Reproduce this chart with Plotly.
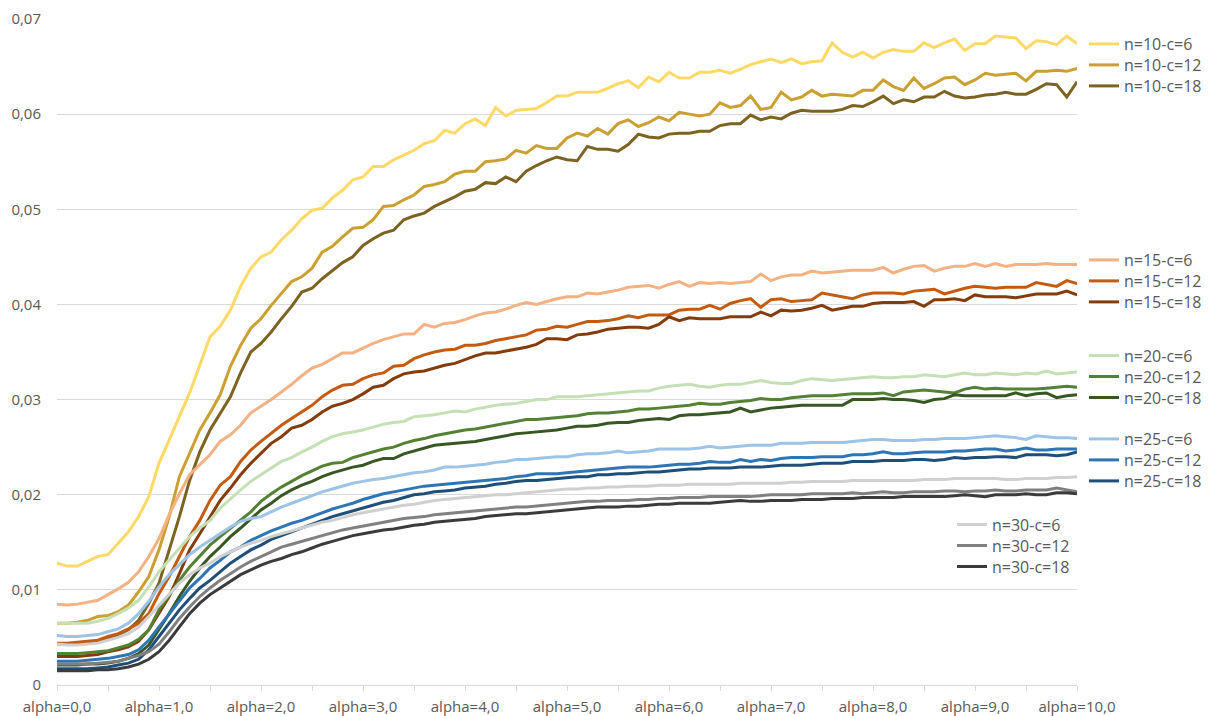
import plotly.graph_objects as go

alpha = [round(i * 0.1, 1) for i in range(101)]
tick_vals = [i * 0.5 for i in range(21)]
tick_text = [("alpha=%d,0" % int(v)) if v == int(v) else "" for v in tick_vals]
y_tick_vals = [0, 0.01, 0.02, 0.03, 0.04, 0.05, 0.06, 0.07]
y_tick_text = ["0", "0,01", "0,02", "0,03", "0,04", "0,05", "0,06", "0,07"]

s10_6 = [0.0128, 0.0125, 0.0125, 0.0130, 0.0135, 0.0137, 0.0149, 0.0161, 0.0177, 0.0198,
         0.0233, 0.0258, 0.0282, 0.0307, 0.0336, 0.0366, 0.0377, 0.0394, 0.0419, 0.0438,
         0.0450, 0.0455, 0.0468, 0.0478, 0.0490, 0.0499, 0.0501, 0.0512, 0.0520, 0.0531,
         0.0534, 0.0545, 0.0545, 0.0552, 0.0557, 0.0562, 0.0569, 0.0572, 0.0583, 0.0580,
         0.0590, 0.0595, 0.0588, 0.0607, 0.0598, 0.0604, 0.0605, 0.0606, 0.0612, 0.0619,
         0.0619, 0.0623, 0.0623, 0.0623, 0.0627, 0.0632, 0.0635, 0.0628, 0.0639, 0.0634,
         0.0644, 0.0638, 0.0638, 0.0644, 0.0644, 0.0646, 0.0643, 0.0647, 0.0652, 0.0655,
         0.0658, 0.0654, 0.0658, 0.0653, 0.0655, 0.0656, 0.0675, 0.0665, 0.0660, 0.0665,
         0.0659, 0.0665, 0.0668, 0.0666, 0.0666, 0.0675, 0.0670, 0.0675, 0.0679, 0.0667,
         0.0674, 0.0674, 0.0682, 0.0681, 0.0680, 0.0669, 0.0677, 0.0676, 0.0673, 0.0682,
         0.0674]
s10_12 = [0.0065, 0.0065, 0.0066, 0.0068, 0.0072, 0.0073, 0.0077, 0.0084, 0.0098, 0.0114,
          0.0142, 0.0177, 0.0219, 0.0244, 0.0268, 0.0286, 0.0305, 0.0335, 0.0357, 0.0375,
          0.0385, 0.0399, 0.0412, 0.0424, 0.0429, 0.0438, 0.0455, 0.0461, 0.0471, 0.0480,
          0.0481, 0.0489, 0.0503, 0.0504, 0.0510, 0.0515, 0.0524, 0.0526, 0.0529, 0.0537,
          0.0540, 0.0540, 0.0550, 0.0551, 0.0553, 0.0562, 0.0559, 0.0567, 0.0564, 0.0564,
          0.0575, 0.0580, 0.0577, 0.0585, 0.0579, 0.0590, 0.0594, 0.0587, 0.0591, 0.0597,
          0.0593, 0.0602, 0.0600, 0.0598, 0.0600, 0.0612, 0.0607, 0.0609, 0.0619, 0.0605,
          0.0607, 0.0623, 0.0615, 0.0618, 0.0625, 0.0619, 0.0621, 0.0620, 0.0619, 0.0625,
          0.0625, 0.0636, 0.0629, 0.0625, 0.0638, 0.0627, 0.0632, 0.0638, 0.0639, 0.0631,
          0.0636, 0.0643, 0.0641, 0.0642, 0.0643, 0.0635, 0.0645, 0.0645, 0.0646, 0.0645,
          0.0648]
s10_18 = [0.0043, 0.0043, 0.0043, 0.0044, 0.0046, 0.0049, 0.0053, 0.0058, 0.0068, 0.0086,
          0.0107, 0.0142, 0.0177, 0.0215, 0.0245, 0.0268, 0.0286, 0.0303, 0.0328, 0.0350,
          0.0359, 0.0371, 0.0385, 0.0398, 0.0413, 0.0417, 0.0427, 0.0436, 0.0444, 0.0450,
          0.0462, 0.0469, 0.0475, 0.0478, 0.0489, 0.0493, 0.0496, 0.0503, 0.0508, 0.0513,
          0.0519, 0.0521, 0.0528, 0.0527, 0.0534, 0.0529, 0.0540, 0.0546, 0.0551, 0.0555,
          0.0552, 0.0551, 0.0566, 0.0563, 0.0563, 0.0561, 0.0568, 0.0579, 0.0576, 0.0575,
          0.0579, 0.0580, 0.0580, 0.0582, 0.0582, 0.0588, 0.0590, 0.0590, 0.0599, 0.0594,
          0.0597, 0.0595, 0.0601, 0.0604, 0.0603, 0.0603, 0.0603, 0.0605, 0.0609, 0.0608,
          0.0613, 0.0619, 0.0611, 0.0615, 0.0613, 0.0618, 0.0618, 0.0624, 0.0619, 0.0617,
          0.0618, 0.0620, 0.0621, 0.0623, 0.0621, 0.0621, 0.0626, 0.0632, 0.0631, 0.0618,
          0.0634]
s15_6 = [0.0085, 0.0084, 0.0085, 0.0087, 0.0089, 0.0095, 0.0101, 0.0108, 0.0119, 0.0135,
         0.0154, 0.0179, 0.0201, 0.0221, 0.0231, 0.0242, 0.0256, 0.0263, 0.0273, 0.0286,
         0.0293, 0.0300, 0.0308, 0.0316, 0.0325, 0.0333, 0.0337, 0.0343, 0.0349, 0.0349,
         0.0354, 0.0359, 0.0363, 0.0366, 0.0369, 0.0369, 0.0379, 0.0376, 0.0380, 0.0381,
         0.0384, 0.0388, 0.0391, 0.0392, 0.0395, 0.0399, 0.0402, 0.0400, 0.0403, 0.0406,
         0.0408, 0.0408, 0.0412, 0.0411, 0.0413, 0.0415, 0.0418, 0.0419, 0.0420, 0.0417,
         0.0421, 0.0424, 0.0419, 0.0423, 0.0422, 0.0423, 0.0422, 0.0423, 0.0424, 0.0432,
         0.0425, 0.0429, 0.0431, 0.0431, 0.0435, 0.0433, 0.0434, 0.0435, 0.0436, 0.0436,
         0.0436, 0.0439, 0.0433, 0.0437, 0.0440, 0.0441, 0.0435, 0.0438, 0.0440, 0.0440,
         0.0443, 0.0440, 0.0443, 0.0440, 0.0442, 0.0442, 0.0442, 0.0443, 0.0442, 0.0442,
         0.0442]
s15_12 = [0.0044, 0.0044, 0.0045, 0.0046, 0.0047, 0.0051, 0.0054, 0.0059, 0.0065, 0.0075,
          0.0096, 0.0114, 0.0135, 0.0156, 0.0173, 0.0194, 0.0210, 0.0219, 0.0235, 0.0247,
          0.0256, 0.0265, 0.0273, 0.0280, 0.0287, 0.0294, 0.0303, 0.0310, 0.0315, 0.0316,
          0.0322, 0.0326, 0.0328, 0.0335, 0.0336, 0.0343, 0.0347, 0.0350, 0.0352, 0.0353,
          0.0357, 0.0357, 0.0359, 0.0362, 0.0364, 0.0366, 0.0368, 0.0373, 0.0374, 0.0377,
          0.0376, 0.0379, 0.0382, 0.0382, 0.0383, 0.0385, 0.0388, 0.0386, 0.0389, 0.0389,
          0.0389, 0.0394, 0.0395, 0.0395, 0.0399, 0.0395, 0.0401, 0.0404, 0.0406, 0.0397,
          0.0405, 0.0406, 0.0403, 0.0404, 0.0405, 0.0412, 0.0410, 0.0408, 0.0406, 0.0410,
          0.0412, 0.0412, 0.0412, 0.0411, 0.0414, 0.0415, 0.0416, 0.0411, 0.0414, 0.0417,
          0.0419, 0.0418, 0.0417, 0.0418, 0.0418, 0.0418, 0.0423, 0.0421, 0.0419, 0.0425,
          0.0422]
s15_18 = [0.0030, 0.0030, 0.0030, 0.0031, 0.0032, 0.0035, 0.0037, 0.0040, 0.0046, 0.0058,
          0.0075, 0.0093, 0.0117, 0.0142, 0.0159, 0.0177, 0.0194, 0.0207, 0.0221, 0.0233,
          0.0244, 0.0254, 0.0261, 0.0270, 0.0273, 0.0279, 0.0287, 0.0293, 0.0296, 0.0300,
          0.0306, 0.0313, 0.0315, 0.0322, 0.0327, 0.0329, 0.0330, 0.0333, 0.0336, 0.0338,
          0.0342, 0.0346, 0.0349, 0.0349, 0.0351, 0.0353, 0.0355, 0.0358, 0.0364, 0.0364,
          0.0363, 0.0368, 0.0369, 0.0371, 0.0374, 0.0375, 0.0376, 0.0376, 0.0375, 0.0379,
          0.0387, 0.0383, 0.0386, 0.0385, 0.0385, 0.0385, 0.0387, 0.0387, 0.0387, 0.0392,
          0.0388, 0.0394, 0.0393, 0.0394, 0.0396, 0.0399, 0.0394, 0.0396, 0.0398, 0.0398,
          0.0401, 0.0402, 0.0402, 0.0402, 0.0403, 0.0398, 0.0405, 0.0405, 0.0406, 0.0404,
          0.0410, 0.0408, 0.0408, 0.0408, 0.0407, 0.0409, 0.0411, 0.0411, 0.0411, 0.0414,
          0.0410]
s20_6 = [0.0065, 0.0065, 0.0065, 0.0065, 0.0067, 0.0070, 0.0075, 0.0081, 0.0089, 0.0103,
         0.0119, 0.0131, 0.0144, 0.0156, 0.0165, 0.0173, 0.0186, 0.0196, 0.0205, 0.0214,
         0.0221, 0.0228, 0.0235, 0.0239, 0.0245, 0.0250, 0.0256, 0.0261, 0.0264, 0.0266,
         0.0268, 0.0271, 0.0274, 0.0276, 0.0277, 0.0282, 0.0283, 0.0284, 0.0286, 0.0288,
         0.0287, 0.0290, 0.0292, 0.0294, 0.0295, 0.0296, 0.0298, 0.0300, 0.0300, 0.0303,
         0.0303, 0.0303, 0.0304, 0.0305, 0.0306, 0.0307, 0.0308, 0.0309, 0.0309, 0.0312,
         0.0314, 0.0315, 0.0316, 0.0314, 0.0313, 0.0315, 0.0316, 0.0316, 0.0318, 0.0320,
         0.0318, 0.0317, 0.0317, 0.0320, 0.0322, 0.0321, 0.0320, 0.0321, 0.0322, 0.0323,
         0.0324, 0.0323, 0.0323, 0.0324, 0.0324, 0.0326, 0.0325, 0.0324, 0.0326, 0.0328,
         0.0326, 0.0326, 0.0328, 0.0327, 0.0326, 0.0328, 0.0327, 0.0330, 0.0327, 0.0328,
         0.0329]
s20_12 = [0.0033, 0.0033, 0.0033, 0.0034, 0.0035, 0.0036, 0.0039, 0.0042, 0.0048, 0.0058,
          0.0079, 0.0095, 0.0110, 0.0124, 0.0135, 0.0147, 0.0156, 0.0165, 0.0173, 0.0182,
          0.0193, 0.0201, 0.0208, 0.0214, 0.0220, 0.0225, 0.0230, 0.0233, 0.0234, 0.0239,
          0.0242, 0.0245, 0.0248, 0.0250, 0.0254, 0.0257, 0.0259, 0.0262, 0.0264, 0.0266,
          0.0268, 0.0269, 0.0271, 0.0273, 0.0275, 0.0277, 0.0279, 0.0279, 0.0280, 0.0281,
          0.0282, 0.0283, 0.0285, 0.0286, 0.0286, 0.0287, 0.0288, 0.0290, 0.0290, 0.0291,
          0.0292, 0.0293, 0.0294, 0.0296, 0.0295, 0.0295, 0.0297, 0.0298, 0.0299, 0.0301,
          0.0300, 0.0300, 0.0302, 0.0303, 0.0304, 0.0304, 0.0304, 0.0305, 0.0306, 0.0306,
          0.0306, 0.0307, 0.0304, 0.0308, 0.0309, 0.0310, 0.0309, 0.0308, 0.0307, 0.0311,
          0.0313, 0.0311, 0.0312, 0.0311, 0.0311, 0.0311, 0.0311, 0.0312, 0.0313, 0.0314,
          0.0313]
s20_18 = [0.0021, 0.0021, 0.0021, 0.0022, 0.0022, 0.0023, 0.0025, 0.0028, 0.0033, 0.0042,
          0.0058, 0.0075, 0.0093, 0.0109, 0.0123, 0.0135, 0.0145, 0.0156, 0.0165, 0.0175,
          0.0184, 0.0191, 0.0199, 0.0205, 0.0210, 0.0214, 0.0219, 0.0223, 0.0226, 0.0229,
          0.0231, 0.0235, 0.0238, 0.0238, 0.0243, 0.0246, 0.0249, 0.0252, 0.0253, 0.0254,
          0.0255, 0.0256, 0.0258, 0.0260, 0.0262, 0.0264, 0.0265, 0.0266, 0.0267, 0.0268,
          0.0270, 0.0272, 0.0272, 0.0273, 0.0275, 0.0276, 0.0276, 0.0278, 0.0279, 0.0280,
          0.0279, 0.0283, 0.0284, 0.0284, 0.0285, 0.0286, 0.0287, 0.0291, 0.0287, 0.0289,
          0.0291, 0.0292, 0.0293, 0.0294, 0.0294, 0.0294, 0.0294, 0.0294, 0.0300, 0.0300,
          0.0300, 0.0301, 0.0300, 0.0300, 0.0299, 0.0297, 0.0300, 0.0301, 0.0305, 0.0304,
          0.0304, 0.0304, 0.0304, 0.0304, 0.0307, 0.0304, 0.0306, 0.0307, 0.0302, 0.0304,
          0.0305]
s25_6 = [0.0052, 0.0051, 0.0051, 0.0052, 0.0053, 0.0056, 0.0059, 0.0065, 0.0075, 0.0088,
         0.0103, 0.0116, 0.0126, 0.0137, 0.0145, 0.0152, 0.0159, 0.0166, 0.0172, 0.0175,
         0.0177, 0.0182, 0.0187, 0.0191, 0.0195, 0.0199, 0.0203, 0.0206, 0.0209, 0.0212,
         0.0214, 0.0216, 0.0217, 0.0219, 0.0221, 0.0223, 0.0224, 0.0226, 0.0229, 0.0229,
         0.0230, 0.0231, 0.0232, 0.0234, 0.0235, 0.0237, 0.0237, 0.0238, 0.0239, 0.0240,
         0.0240, 0.0242, 0.0243, 0.0243, 0.0244, 0.0246, 0.0244, 0.0245, 0.0246, 0.0248,
         0.0248, 0.0248, 0.0248, 0.0249, 0.0251, 0.0249, 0.0250, 0.0251, 0.0252, 0.0252,
         0.0252, 0.0254, 0.0254, 0.0254, 0.0255, 0.0255, 0.0255, 0.0255, 0.0256, 0.0257,
         0.0258, 0.0258, 0.0257, 0.0257, 0.0257, 0.0258, 0.0258, 0.0259, 0.0259, 0.0259,
         0.0260, 0.0261, 0.0262, 0.0261, 0.0260, 0.0258, 0.0262, 0.0261, 0.0260, 0.0260,
         0.0259]
s25_12 = [0.0025, 0.0025, 0.0025, 0.0026, 0.0027, 0.0028, 0.0030, 0.0032, 0.0037, 0.0047,
          0.0061, 0.0075, 0.0089, 0.0102, 0.0112, 0.0123, 0.0131, 0.0140, 0.0145, 0.0152,
          0.0157, 0.0162, 0.0166, 0.0170, 0.0173, 0.0177, 0.0181, 0.0185, 0.0188, 0.0191,
          0.0195, 0.0198, 0.0201, 0.0203, 0.0205, 0.0207, 0.0209, 0.0210, 0.0211, 0.0212,
          0.0213, 0.0214, 0.0215, 0.0216, 0.0217, 0.0219, 0.0220, 0.0222, 0.0222, 0.0222,
          0.0223, 0.0224, 0.0225, 0.0226, 0.0227, 0.0228, 0.0229, 0.0229, 0.0229, 0.0230,
          0.0231, 0.0232, 0.0232, 0.0233, 0.0235, 0.0234, 0.0234, 0.0237, 0.0235, 0.0237,
          0.0236, 0.0238, 0.0239, 0.0239, 0.0239, 0.0240, 0.0240, 0.0240, 0.0242, 0.0242,
          0.0243, 0.0245, 0.0243, 0.0243, 0.0244, 0.0245, 0.0245, 0.0245, 0.0246, 0.0246,
          0.0247, 0.0248, 0.0248, 0.0246, 0.0247, 0.0249, 0.0247, 0.0247, 0.0248, 0.0248,
          0.0248]
s25_18 = [0.0017, 0.0017, 0.0017, 0.0017, 0.0018, 0.0019, 0.0021, 0.0023, 0.0027, 0.0037,
          0.0051, 0.0065, 0.0079, 0.0091, 0.0102, 0.0110, 0.0119, 0.0128, 0.0135, 0.0142,
          0.0147, 0.0153, 0.0157, 0.0161, 0.0165, 0.0169, 0.0173, 0.0177, 0.0180, 0.0183,
          0.0186, 0.0189, 0.0192, 0.0194, 0.0197, 0.0200, 0.0201, 0.0203, 0.0204, 0.0205,
          0.0207, 0.0208, 0.0209, 0.0211, 0.0212, 0.0214, 0.0215, 0.0215, 0.0216, 0.0217,
          0.0218, 0.0219, 0.0219, 0.0221, 0.0221, 0.0222, 0.0222, 0.0223, 0.0224, 0.0224,
          0.0225, 0.0226, 0.0227, 0.0227, 0.0228, 0.0228, 0.0228, 0.0229, 0.0229, 0.0229,
          0.0230, 0.0231, 0.0231, 0.0231, 0.0232, 0.0233, 0.0233, 0.0233, 0.0235, 0.0235,
          0.0235, 0.0236, 0.0236, 0.0236, 0.0237, 0.0237, 0.0236, 0.0237, 0.0239, 0.0238,
          0.0239, 0.0239, 0.0240, 0.0240, 0.0239, 0.0242, 0.0242, 0.0242, 0.0241, 0.0242,
          0.0245]
s30_6 = [0.0043, 0.0042, 0.0042, 0.0043, 0.0044, 0.0047, 0.0050, 0.0054, 0.0061, 0.0072,
         0.0084, 0.0096, 0.0107, 0.0116, 0.0123, 0.0128, 0.0135, 0.0140, 0.0145, 0.0149,
         0.0152, 0.0156, 0.0159, 0.0162, 0.0165, 0.0168, 0.0171, 0.0173, 0.0176, 0.0179,
         0.0181, 0.0183, 0.0185, 0.0187, 0.0189, 0.0190, 0.0192, 0.0194, 0.0195, 0.0196,
         0.0197, 0.0198, 0.0199, 0.0200, 0.0200, 0.0201, 0.0202, 0.0203, 0.0204, 0.0205,
         0.0206, 0.0206, 0.0207, 0.0207, 0.0208, 0.0208, 0.0209, 0.0209, 0.0209, 0.0210,
         0.0210, 0.0210, 0.0211, 0.0211, 0.0211, 0.0211, 0.0211, 0.0212, 0.0212, 0.0212,
         0.0212, 0.0212, 0.0213, 0.0213, 0.0214, 0.0214, 0.0214, 0.0214, 0.0215, 0.0215,
         0.0215, 0.0215, 0.0215, 0.0215, 0.0215, 0.0216, 0.0216, 0.0216, 0.0217, 0.0217,
         0.0217, 0.0217, 0.0217, 0.0216, 0.0216, 0.0217, 0.0217, 0.0217, 0.0218, 0.0218,
         0.0219]
s30_12 = [0.0022, 0.0022, 0.0022, 0.0022, 0.0023, 0.0024, 0.0025, 0.0028, 0.0031, 0.0035,
          0.0043, 0.0056, 0.0070, 0.0082, 0.0093, 0.0102, 0.0110, 0.0117, 0.0124, 0.0130,
          0.0135, 0.0140, 0.0145, 0.0148, 0.0151, 0.0154, 0.0157, 0.0160, 0.0163, 0.0165,
          0.0167, 0.0169, 0.0171, 0.0173, 0.0175, 0.0176, 0.0177, 0.0179, 0.0180, 0.0181,
          0.0182, 0.0183, 0.0184, 0.0185, 0.0186, 0.0187, 0.0187, 0.0188, 0.0189, 0.0190,
          0.0191, 0.0192, 0.0193, 0.0193, 0.0194, 0.0194, 0.0194, 0.0195, 0.0195, 0.0196,
          0.0196, 0.0197, 0.0197, 0.0197, 0.0198, 0.0198, 0.0198, 0.0198, 0.0198, 0.0199,
          0.0200, 0.0200, 0.0200, 0.0200, 0.0201, 0.0201, 0.0201, 0.0201, 0.0202, 0.0201,
          0.0202, 0.0203, 0.0202, 0.0202, 0.0203, 0.0203, 0.0203, 0.0204, 0.0204, 0.0203,
          0.0204, 0.0204, 0.0205, 0.0204, 0.0204, 0.0205, 0.0205, 0.0205, 0.0207, 0.0205,
          0.0203]
s30_18 = [0.0015, 0.0015, 0.0015, 0.0015, 0.0016, 0.0016, 0.0017, 0.0019, 0.0022, 0.0027,
          0.0035, 0.0047, 0.0061, 0.0075, 0.0086, 0.0095, 0.0102, 0.0109, 0.0116, 0.0121,
          0.0126, 0.0130, 0.0133, 0.0137, 0.0140, 0.0144, 0.0148, 0.0151, 0.0154, 0.0157,
          0.0159, 0.0161, 0.0163, 0.0164, 0.0166, 0.0168, 0.0169, 0.0171, 0.0172, 0.0173,
          0.0174, 0.0175, 0.0177, 0.0178, 0.0179, 0.0180, 0.0180, 0.0181, 0.0182, 0.0183,
          0.0184, 0.0185, 0.0186, 0.0187, 0.0187, 0.0187, 0.0188, 0.0188, 0.0189, 0.0190,
          0.0190, 0.0191, 0.0191, 0.0191, 0.0191, 0.0192, 0.0193, 0.0194, 0.0193, 0.0193,
          0.0194, 0.0194, 0.0194, 0.0195, 0.0195, 0.0195, 0.0196, 0.0196, 0.0196, 0.0197,
          0.0197, 0.0197, 0.0197, 0.0198, 0.0198, 0.0198, 0.0198, 0.0198, 0.0199, 0.0200,
          0.0199, 0.0198, 0.0200, 0.0200, 0.0200, 0.0201, 0.0200, 0.0200, 0.0202, 0.0202,
          0.0201]

names = ["n=10-c=6", "n=10-c=12", "n=10-c=18",
         "n=15-c=6", "n=15-c=12", "n=15-c=18",
         "n=20-c=6", "n=20-c=12", "n=20-c=18",
         "n=25-c=6", "n=25-c=12", "n=25-c=18",
         "n=30-c=6", "n=30-c=12", "n=30-c=18"]
values = [s10_6, s10_12, s10_18, s15_6, s15_12, s15_18, s20_6, s20_12, s20_18,
          s25_6, s25_12, s25_18, s30_6, s30_12, s30_18]
colors = ["#FFD966", "#C9A031", "#7C6322",
          "#F4B183", "#C55A11", "#843C0C",
          "#C5E0B4", "#548235", "#385723",
          "#9DC3E6", "#2E75B6", "#1F4E79",
          "#D0D0D0", "#808080", "#3B3B3B"]

# legend entry positions in pixels (page coords) -> one legend per entry
PLOT_L, PLOT_R, PLOT_T, PLOT_B = 57, 1077, 19, 685
legend_px = [(1084, 44), (1084, 65), (1084, 86),
             (1084, 260), (1084, 281), (1084, 302),
             (1084, 355.5), (1084, 376.5), (1084, 397.5),
             (1084, 439), (1084, 460), (1084, 481),
             (952, 524.5), (952, 545.5), (952, 566.5)]

font_color = "#595959"
fig = go.Figure()
layout_legends = {}
for i, (name, vals, color) in enumerate(zip(names, values, colors)):
    key = "legend" if i == 0 else "legend%d" % (i + 1)
    fig.add_trace(go.Scatter(x=alpha, y=vals, mode="lines", name=name,
                             line=dict(color=color, width=3), legend=key))
    px, py = legend_px[i]
    layout_legends[key] = dict(
        x=(px - PLOT_L) / (PLOT_R - PLOT_L),
        y=(PLOT_B - py) / (PLOT_B - PLOT_T),
        xanchor="left", yanchor="middle",
        bgcolor="rgba(0,0,0,0)", borderwidth=0,
        font=dict(size=16, color=font_color, family="Open Sans"),
        itemwidth=30)

fig.update_layout(
    width=1215, height=716,
    margin=dict(l=PLOT_L, r=1215 - PLOT_R, t=PLOT_T, b=716 - PLOT_B, autoexpand=False),
    paper_bgcolor="white", plot_bgcolor="white",
    font=dict(family="Open Sans", size=15, color=font_color),
    showlegend=True,
    xaxis=dict(range=[0, 10], tickvals=tick_vals, ticktext=tick_text,
               showgrid=False, zeroline=False, showline=True, linecolor="#D9D9D9",
               linewidth=1, ticks="outside", ticklen=5, tickcolor="#D9D9D9",
               tickfont=dict(size=15, color=font_color), ticklabelstandoff=3,
               automargin=False),
    yaxis=dict(range=[0, 0.07], tickvals=y_tick_vals, ticktext=y_tick_text,
               showgrid=True, gridcolor="#D9D9D9", gridwidth=1, zeroline=False,
               showline=False, ticks="", tickfont=dict(size=15, color=font_color),
               ticklabelstandoff=15, automargin=False),
    **layout_legends,
)

fig.write_html("out.html", config={"displayModeBar": False},
               post_script="document.body.style.margin='0';")
